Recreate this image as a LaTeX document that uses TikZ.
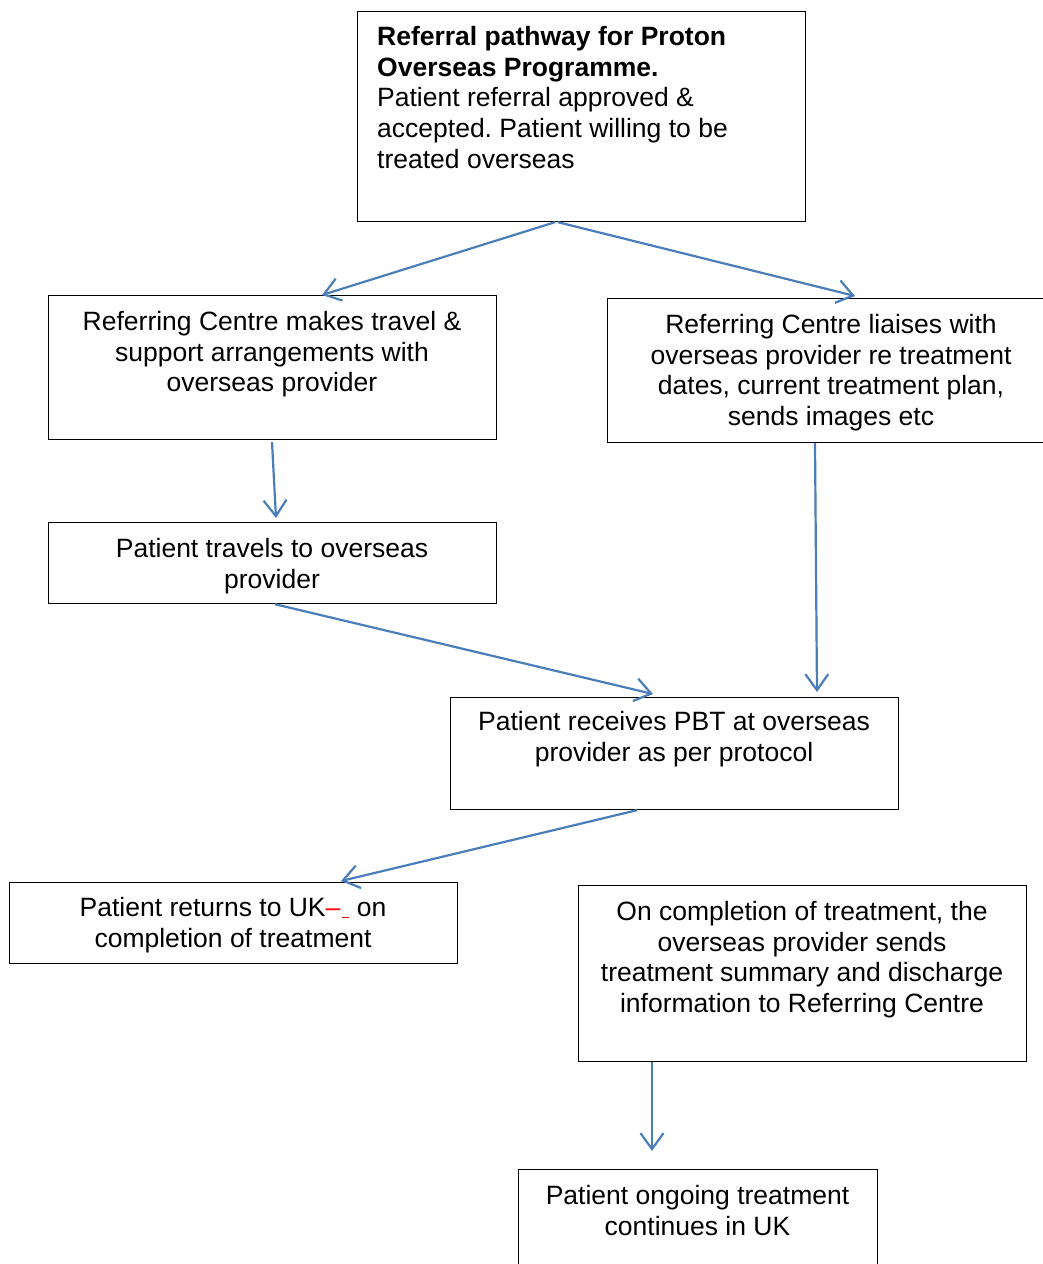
\documentclass[tikz,border=0pt]{standalone}
\usepackage{fontspec}
\setmainfont{Liberation Sans}
\usetikzlibrary{arrows.meta}
\definecolor{arrowblue}{RGB}{74,126,187}
\begin{document}
\frenchspacing
\begin{tikzpicture}[x=1pt,y=1pt,
  box/.style={draw=black, line width=1.2pt, rectangle, anchor=north west, inner sep=0pt},
  txt/.style={anchor=north, inner sep=0pt, align=center, font=\fontsize{26.5}{30.7}\selectfont},
  arr/.style={draw=arrowblue, line width=2.2pt, -{Straight Barb[length=16pt,width=23pt]}}]
\useasboundingbox (0,0) rectangle (1043,-1264);

% boxes
\node[box, minimum width=448pt, minimum height=210pt] (top) at (357,-11) {};
\node[box, minimum width=448pt, minimum height=144pt] (l1) at (48,-295) {};
\node[box, minimum width=448pt, minimum height=144pt] (r1) at (607,-298) {};
\node[box, minimum width=448pt, minimum height=81pt] (l2) at (48,-522) {};
\node[box, minimum width=448pt, minimum height=112pt] (mid) at (450,-697) {};
\node[box, minimum width=448pt, minimum height=81pt] (l3) at (9,-882) {};
\node[box, minimum width=448pt, minimum height=176pt] (r3) at (578,-885) {};
\node[box, minimum width=359pt, minimum height=130pt] (bot) at (518,-1169) {};

% texts
\node[txt, align=left, anchor=north west] (topt) at (377,-26)
  {\textbf{Referral pathway for Proton}\\\textbf{Overseas Programme.}\\Patient referral approved \&\\accepted. Patient willing to be\\treated overseas};
\node[txt] (l1t) at (272,-311) {Referring Centre makes travel \&\\support arrangements with\\overseas provider};
\node[txt] (r1t) at (831,-314) {Referring Centre liaises with\\overseas provider re treatment\\dates, current treatment plan,\\sends images etc};
\node[txt] (l2t) at (272,-538) {Patient travels to overseas\\provider};
\node[txt] (midt) at (674,-711) {Patient receives PBT at overseas\\provider as per protocol};
\node[txt] (l3t) at (233,-897) {Patient returns to UK\textcolor{red}{–}\hspace{2pt}\textcolor{red}{\rule[-2pt]{7pt}{1.6pt}} on\\completion of treatment};
\node[txt] (r3t) at (802,-901) {On completion of treatment, the\\overseas provider sends\\treatment summary and discharge\\information to Referring Centre};
\node[txt] (bott) at (697.5,-1185) {Patient ongoing treatment\\continues in UK};

% connectors
\draw[arr] ([xshift=198pt]top.south west) -- ([xshift=274pt]l1.north west);
\draw[arr] ([xshift=201pt]top.south west) -- ([xshift=248pt,yshift=2pt]r1.north west);
\draw[arr] ([xshift=224pt,yshift=-2pt]l1.south west) -- ([xshift=228pt,yshift=4pt]l2.north west);
\draw[arr] ([xshift=208pt]r1.south west) -- ([xshift=367pt,yshift=5pt]mid.north west);
\draw[arr] ([xshift=227pt]l2.south west) -- ([xshift=203pt,yshift=3pt]mid.north west);
\draw[arr] ([xshift=187pt]mid.south west) -- ([xshift=332pt,yshift=1pt]l3.north west);
\draw[arr] ([xshift=74pt]r3.south west) -- ([xshift=134pt,yshift=18pt]bot.north west);
\end{tikzpicture}
\end{document}
